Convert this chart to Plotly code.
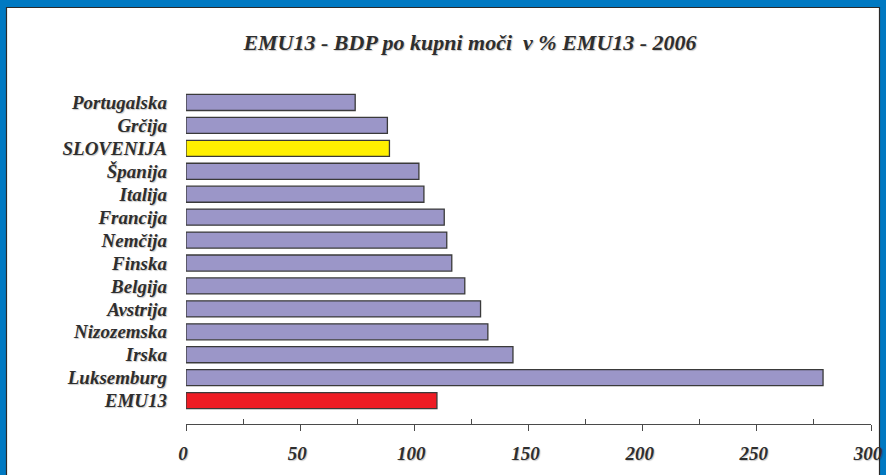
import plotly.graph_objects as go

categories = ["Portugalska", "Grčija", "SLOVENIJA", "Španija", "Italija", "Francija",
              "Nemčija", "Finska", "Belgija", "Avstrija", "Nizozemska", "Irska",
              "Luksemburg", "EMU13"]
values = [74.1, 88.2, 89.1, 102.0, 104.2, 113.1, 114.2, 116.4, 122.1, 129.0, 132.2, 143.2, 279.0, 109.9]
highlight = {"SLOVENIJA": "#FFF000", "EMU13": "#EE1C24"}
base_color = "#9B96C8"
title_text = "EMU13 - BDP po kupni moči  v % EMU13 - 2006"
x_ticks = [0, 50, 100, 150, 200, 250, 300]

colors = [highlight.get(c, base_color) for c in categories]

W, H = 886, 475
ml, mr, mt, mb = 186, 15, 91, 51
FONT = "Liberation Serif"
TXT = "#2E2E2E"
SHADOW = "1px 1px 1px rgba(0,0,0,0.22)"

fig = go.Figure()
fig.add_trace(go.Bar(
    x=values, y=categories, orientation="h",
    marker=dict(color=colors, line=dict(color="#3A3A3A", width=1.3)),
    width=0.7, hoverinfo="x+y",
))

pw = W - ml - mr
ph = H - mt - mb
# white panel with dark edge, inside the blue frame (coords relative to plot area)
fig.add_shape(type="rect", xref="paper", yref="paper", layer="below",
              x0=(6.5 - ml) / pw, x1=(W - 6.5 - ml) / pw,
              y0=-(mb + 10) / ph, y1=1 + (mt - 7.5) / ph,
              fillcolor="white", line=dict(color="#2A2A2A", width=1.2))

fig.update_layout(
    width=W, height=H,
    margin=dict(l=ml, r=mr, t=mt, b=mb, autoexpand=False),
    paper_bgcolor="#0079C2",
    plot_bgcolor="rgba(0,0,0,0)",
    showlegend=False,
    bargap=0.3,
    title=dict(text=title_text, x=(470 - ml) / pw, xref="paper", xanchor="center",
               y=1 - 42 / H, yanchor="middle",
               font=dict(family=FONT, size=22, color=TXT, weight="bold", style="italic",
                         shadow=SHADOW)),
    xaxis=dict(range=[0, 300], tickvals=x_ticks, ticks="outside", ticklen=6,
               tickcolor="#4A4A4A", tickwidth=1, showline=True, linecolor="#4A4A4A",
               linewidth=1, showgrid=False, zeroline=False, automargin=False,
               ticklabelstandoff=6, ticklabelshift=-3,
               tickfont=dict(family=FONT, size=19, color=TXT, weight="bold",
                             style="italic", shadow=SHADOW),
               minor=dict(ticks="inside", ticklen=5, tickcolor="#4A4A4A",
                          tickvals=[25, 75, 125, 175, 225, 275], tickwidth=1)),
    xaxis2=dict(range=[0, 300], overlaying="x", anchor="y", side="bottom",
                tickvals=x_ticks, ticks="inside", ticklen=5, tickcolor="#4A4A4A",
                showticklabels=False, showgrid=False, zeroline=False, showline=False,
                automargin=False),
    yaxis=dict(range=[14.02, -0.5], showgrid=False, zeroline=False, showline=False,
               tickmode="array", tickvals=categories, ticktext=categories,
               ticks="", ticklabelstandoff=18, automargin=False,
               tickfont=dict(family=FONT, size=19, color=TXT, weight="bold",
                             style="italic", shadow=SHADOW)),
)

fig.write_html("out.html", config={"displayModeBar": False},
               post_script="document.body.style.margin='0';document.body.style.overflow='hidden';")
